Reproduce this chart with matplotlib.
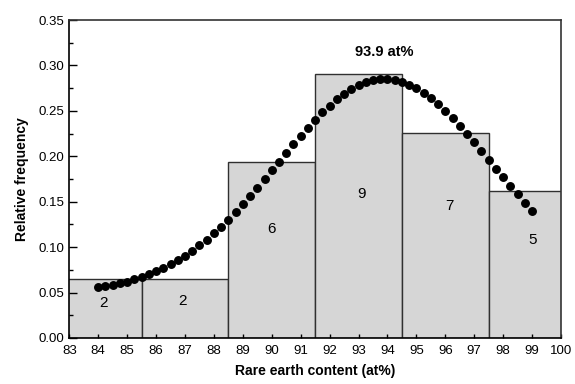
import matplotlib
matplotlib.use("Agg")
import matplotlib.pyplot as plt
from matplotlib.ticker import MultipleLocator
import numpy as np

plt.rcParams['font.family'] = ['Liberation Sans', 'DejaVu Sans']

# histogram: bin centres (at%) and counts
bin_centers = [84, 87, 90, 93, 96, 99]
counts = [2, 2, 6, 9, 7, 5]
bin_width = 3

# fitted distribution
fit_x = [84.0, 84.25, 84.5, 84.75, 85.0, 85.25, 85.5, 85.75, 86.0, 86.25,
         86.5, 86.75, 87.0, 87.25, 87.5, 87.75, 88.0, 88.25, 88.5, 88.75,
         89.0, 89.25, 89.5, 89.75, 90.0, 90.25, 90.5, 90.75, 91.0, 91.25,
         91.5, 91.75, 92.0, 92.25, 92.5, 92.75, 93.0, 93.25, 93.5, 93.75,
         94.0, 94.25, 94.5, 94.75, 95.0, 95.25, 95.5, 95.75, 96.0, 96.25,
         96.5, 96.75, 97.0, 97.25, 97.5, 97.75, 98.0, 98.25, 98.5, 98.75, 99.0]
fit_y = [0.0556, 0.0569, 0.0584, 0.0601, 0.0621, 0.0644, 0.0670, 0.0699, 0.0732, 0.0769,
         0.0810, 0.0855, 0.0905, 0.0960, 0.1019, 0.1084, 0.1153, 0.1226, 0.1304, 0.1387,
         0.1473, 0.1562, 0.1654, 0.1749, 0.1845, 0.1941, 0.2038, 0.2133, 0.2226, 0.2316,
         0.2403, 0.2484, 0.2559, 0.2627, 0.2687, 0.2739, 0.2781, 0.2814, 0.2836, 0.2848,
         0.2849, 0.2839, 0.2819, 0.2789, 0.2748, 0.2698, 0.2640, 0.2573, 0.2499, 0.2419,
         0.2334, 0.2245, 0.2152, 0.2057, 0.1961, 0.1864, 0.1768, 0.1673, 0.1580, 0.1490, 0.1403]

# where the count numbers sit inside the bars
label_x = [84.2, 86.9, 90.0, 93.1, 96.15, 99.0]
label_y = [0.038, 0.041, 0.120, 0.158, 0.145, 0.108]

peak_label = "93.9 at%"
peak_pos = (93.9, 0.315)

rel_freq = np.array(counts) / sum(counts)

fig = plt.figure(figsize=(5.75, 3.84), dpi=100)
ax = fig.add_axes([0.1205, 0.1198, 0.8552, 0.8281])

ax.bar(bin_centers, rel_freq, width=bin_width, color='#d6d6d6',
       edgecolor='#303030', linewidth=1.0, zorder=1)
ax.plot(fit_x, fit_y, 'o', color='black', markersize=5.4, zorder=3)

for x, y, c in zip(label_x, label_y, counts):
    ax.text(x, y, str(c), ha='center', va='center', fontsize=11, zorder=4)

ax.text(peak_pos[0], peak_pos[1], peak_label, ha='center', va='center',
        fontsize=10.5, fontweight='bold')

ax.set_xlim(83, 100)
ax.set_ylim(0, 0.35)
ax.xaxis.set_major_locator(MultipleLocator(1))
ax.yaxis.set_major_locator(MultipleLocator(0.05))
ax.yaxis.set_minor_locator(MultipleLocator(0.025))
ax.yaxis.set_major_formatter(plt.FormatStrFormatter('%.2f'))
ax.tick_params(axis='x', direction='in', length=3, width=1, labelsize=9.5, pad=5)
ax.tick_params(axis='y', which='major', direction='in', length=5.5, width=1, labelsize=9.5)
ax.tick_params(axis='y', which='minor', direction='in', length=3, width=1)

for side in ['left', 'bottom']:
    ax.spines[side].set_linewidth(1.2)
for side in ['top', 'right']:
    ax.spines[side].set_linewidth(1.2)
    ax.spines[side].set_color('#333333')

ax.set_xlabel('Rare earth content (at%)', fontsize=10, fontweight='bold', labelpad=5)
ax.set_ylabel('Relative frequency', fontsize=10, fontweight='bold', labelpad=7)

fig.savefig('out.png', dpi=100)
